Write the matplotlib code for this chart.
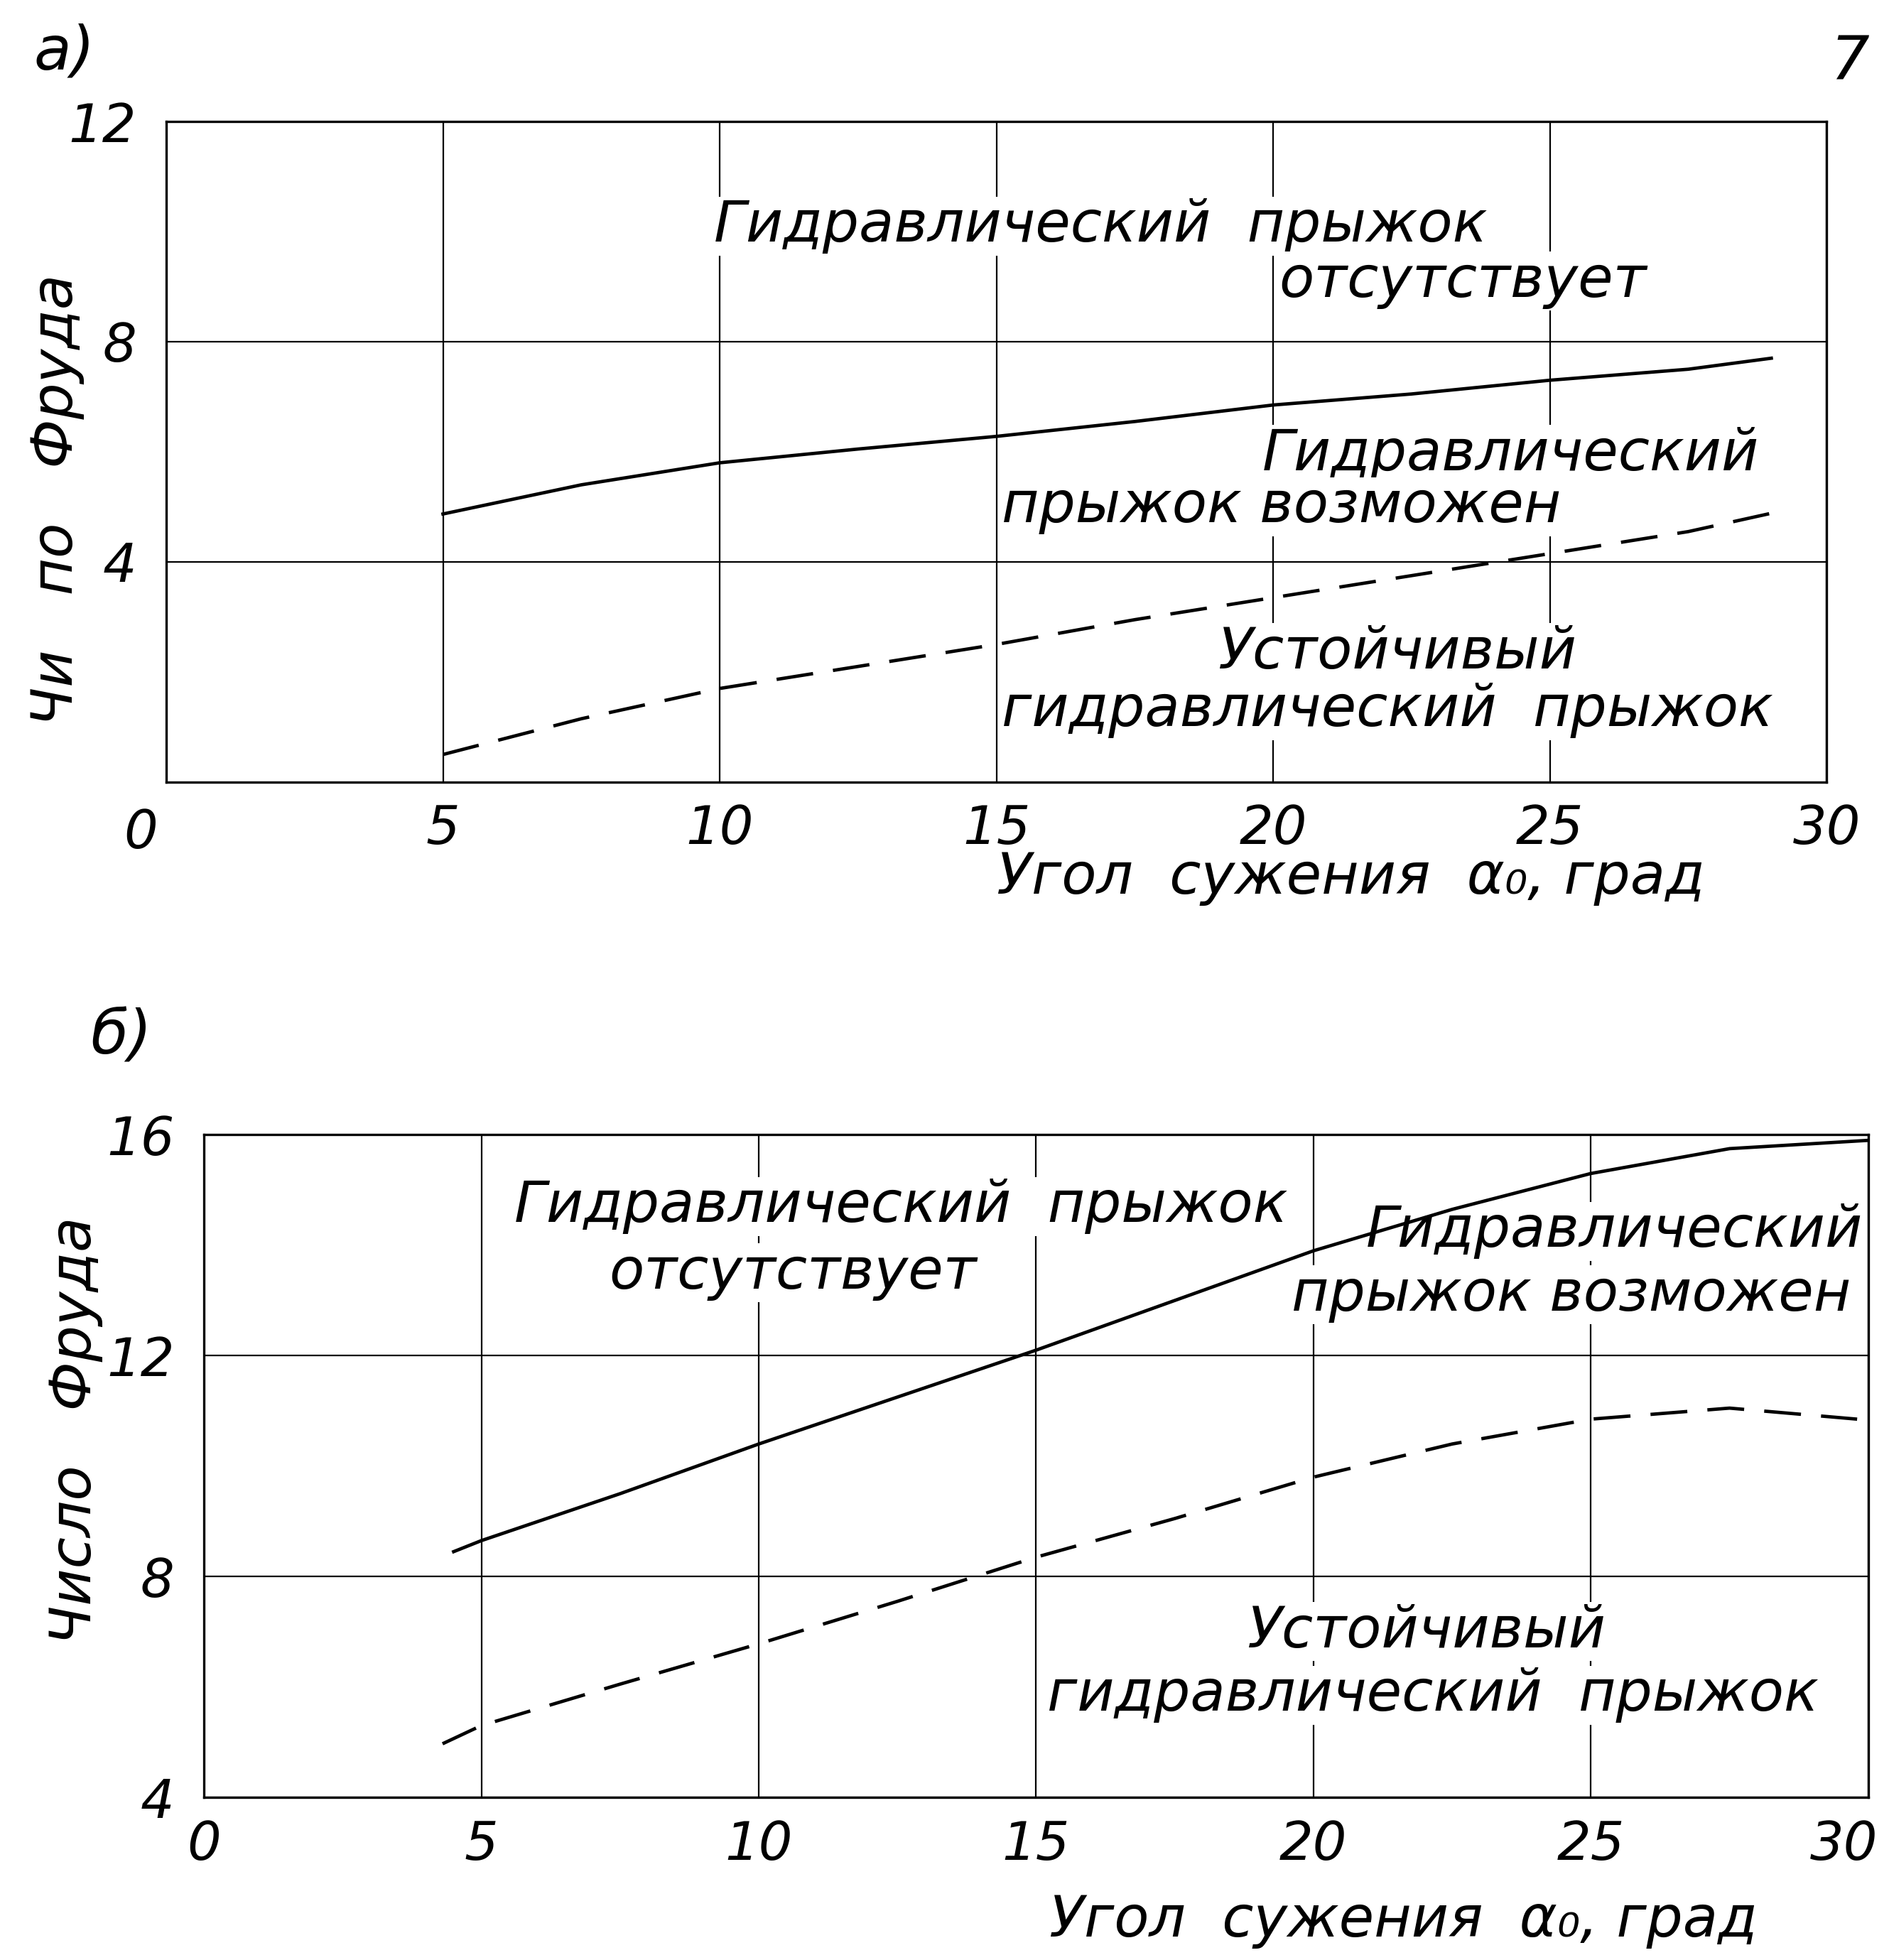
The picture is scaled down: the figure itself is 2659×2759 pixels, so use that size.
import matplotlib
matplotlib.use("Agg")
import matplotlib.pyplot as plt
from matplotlib.transforms import ScaledTranslation

# (a) upper chart, Froude number vs contraction angle
top_solid_x = [5, 7.5, 10, 12.5, 15, 17.5, 20, 22.5, 25, 27.5, 29]
top_solid_y = [4.87, 5.4, 5.8, 6.05, 6.28, 6.55, 6.85, 7.05, 7.3, 7.5, 7.7]
top_dash_x = [5, 7.5, 10, 12.5, 15, 17.5, 20, 22.5, 25, 27.5, 29.3]
top_dash_y = [0.5, 1.15, 1.7, 2.1, 2.5, 2.95, 3.35, 3.75, 4.15, 4.55, 4.95]

# (б) lower chart
bot_solid_x = [4.5, 5, 7.5, 10, 12.5, 15, 17.5, 20, 22.5, 25, 27.5, 30]
bot_solid_y = [8.45, 8.65, 9.5, 10.4, 11.25, 12.1, 13.0, 13.9, 14.65, 15.3, 15.75, 15.9]
bot_dash_x = [4.3, 5, 7.5, 10, 12.5, 15, 17.5, 20, 22.5, 25, 27.5, 29.8]
bot_dash_y = [4.97, 5.3, 6.05, 6.78, 7.55, 8.35, 9.05, 9.8, 10.4, 10.85, 11.05, 10.85]

x_ticks = [0, 5, 10, 15, 20, 25, 30]
top_y_ticks = [4, 8, 12]
bot_y_ticks = [4, 8, 12, 16]

xlabel = "Угол  сужения  α₀, град"
top_ylabel = "Чи   по   Фруда"
bot_ylabel = "Число   Фруда"

plt.rcParams["font.family"] = ["DejaVu Sans"]
plt.rcParams["font.style"] = "italic"

FS = 58
TFS = 54
fig = plt.figure(figsize=(26.59, 27.59), dpi=100)
ax1 = fig.add_axes([0.088, 0.601, 0.879, 0.337])
ax2 = fig.add_axes([0.108, 0.083, 0.881, 0.338])

box = dict(facecolor="white", edgecolor="none", pad=2)


def style_axes(ax, yticks, ylim):
    ax.set_xlim(0, 30)
    ax.set_ylim(*ylim)
    ax.set_xticks(x_ticks)
    ax.set_yticks(yticks)
    ax.tick_params(length=0, labelsize=TFS)
    ax.tick_params(axis="x", pad=22)
    ax.tick_params(axis="y", pad=30)
    ax.grid(True, color="black", linewidth=1.6)
    ax.set_axisbelow(True)
    for s in ax.spines.values():
        s.set_linewidth(2.4)


def shift(label, dx, dy):
    label.set_transform(label.get_transform() + ScaledTranslation(dx / 72, dy / 72, fig.dpi_scale_trans))


style_axes(ax1, top_y_ticks, (0, 12))
ax1.plot(top_solid_x, top_solid_y, color="black", lw=3.4, zorder=4)
ax1.plot(top_dash_x, top_dash_y, color="black", lw=3.4, dashes=(11, 6), zorder=4)
ax1.text(9.9, 10.1, "Гидравлический  прыжок", fontsize=FS, va="center", bbox=box, zorder=3)
ax1.text(20.1, 9.1, "отсутствует", fontsize=FS, va="center", bbox=box, zorder=3)
ax1.text(19.8, 5.95, "Гидравлический", fontsize=FS, va="center", bbox=box, zorder=3)
ax1.text(15.1, 5.0, "прыжок возможен", fontsize=FS, va="center", bbox=box, zorder=3)
ax1.text(19.0, 2.35, "Устойчивый", fontsize=FS, va="center", bbox=box, zorder=3)
ax1.text(15.1, 1.3, "гидравлический  прыжок", fontsize=FS, va="center", bbox=box, zorder=3)

style_axes(ax2, bot_y_ticks, (4, 16))
ax2.plot(bot_solid_x, bot_solid_y, color="black", lw=3.4, zorder=4)
ax2.plot(bot_dash_x, bot_dash_y, color="black", lw=3.4, dashes=(11, 6), zorder=4)
ax2.text(5.6, 14.7, "Гидравлический  прыжок", fontsize=FS, va="center", bbox=box, zorder=3)
ax2.text(7.3, 13.5, "отсутствует", fontsize=FS, va="center", bbox=box, zorder=3)
ax2.text(29.9, 14.25, "Гидравлический", fontsize=FS, va="center", ha="right", bbox=box, zorder=3)
ax2.text(19.6, 13.1, "прыжок возможен", fontsize=FS, va="center", bbox=box, zorder=3)
ax2.text(18.8, 7.0, "Устойчивый", fontsize=FS, va="center", bbox=box, zorder=3)
ax2.text(15.2, 5.85, "гидравлический  прыжок", fontsize=FS, va="center", bbox=box, zorder=3)

# the "0" on the upper chart sits left of the corner, "30" on the lower one stays inside the page
shift(ax1.get_xticklabels()[0], -26, -4)
last = ax2.get_xticklabels()[-1]
last.set_horizontalalignment("right")
shift(last, 10, 0)

# axis titles and panel letters
fig.text(0.715, 0.552, xlabel, fontsize=FS, ha="center", va="center")
fig.text(0.743, 0.020, xlabel, fontsize=FS, ha="center", va="center")
fig.text(0.030, 0.745, top_ylabel, fontsize=FS, rotation=90, ha="center", va="center")
fig.text(0.040, 0.27, bot_ylabel, fontsize=FS, rotation=90, ha="center", va="center")
fig.text(0.034, 0.973, "а)", fontsize=62, ha="center", va="center")
fig.text(0.064, 0.471, "б)", fontsize=62, ha="center", va="center")
fig.text(0.979, 0.968, "7", fontsize=62, ha="center", va="center")

fig.savefig("out.png", dpi=100, facecolor="white")
